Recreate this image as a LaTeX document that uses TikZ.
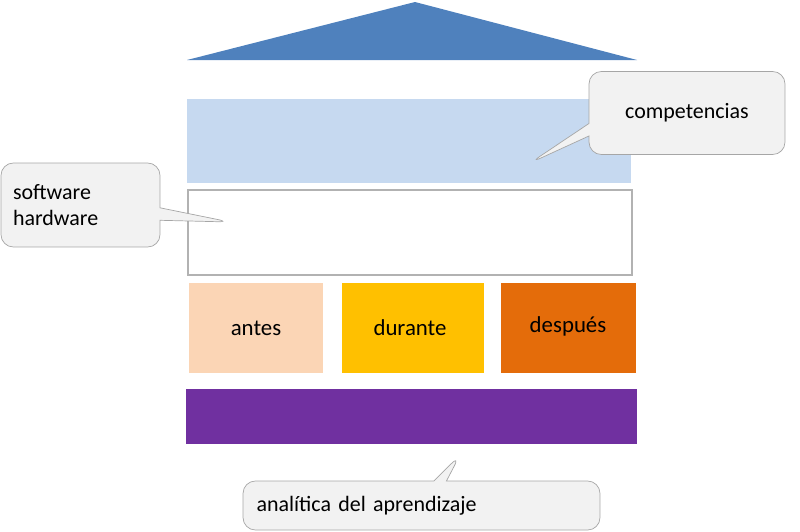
\documentclass[tikz,border=0pt]{standalone}
\usepackage{fontspec}
\setmainfont{Carlito}
\usetikzlibrary{shapes.callouts}

\begin{document}
\begin{tikzpicture}[x=0.02cm,y=-0.02cm]
\useasboundingbox (0,0) rectangle (800,531);

\tikzset{BlockStyle/.style = {draw=none, inner sep=0pt}}
\tikzset{CalloutStyle/.style = {
 rectangle callout,
 rounded corners=7pt,
 draw=gray!70,
 fill=gray!10,
 font=\fontsize{12.5}{15}\selectfont,
 align=left,
 inner sep=0pt} }

\definecolor{roofblue}{HTML}{4F81BD}
\definecolor{skyblue}{HTML}{C6D9F0}
\definecolor{peach}{HTML}{FBD5B5}
\definecolor{amber}{HTML}{FFC000}
\definecolor{rust}{HTML}{E46C0A}
\definecolor{violet}{HTML}{7030A0}

\coordinate (R1) at (187,60);
\coordinate (R2) at (415,2);
\coordinate (R3) at (637,60);
\fill[roofblue] (R1) -- (R2) -- (R3) -- cycle;

\fill[skyblue] (187,99) rectangle (631,183);
\draw[gray!60, line width=1pt] (188,190) rectangle (632,275);

\fill[peach] (189,283) rectangle (323,373);
\node (Antes) at (256,328) {\fontsize{13}{15}\selectfont antes};
\fill[amber] (342,283) rectangle (484,373);
\node (Durante) at (410,328) {\fontsize{13}{15}\selectfont durante};
\fill[rust] (501,283) rectangle (636,373);
\node (Despues) at (568,326) {\fontsize{13}{15}\selectfont después};

\fill[violet] (186,389) rectangle (637,444);

\coordinate (P1) at (530,163);
\coordinate (P2) at (230,222);
\coordinate (P3) at (460,455);

\node[CalloutStyle, minimum width=3.92cm, minimum height=1.66cm,
 callout absolute pointer={(P1)}] (Comp) at (687,113) {competencias};
\node[CalloutStyle, minimum width=3.18cm, minimum height=1.68cm,
 callout absolute pointer={(P2)}, text width=2.7cm] (Soft) at (80.5,205) {software\\hardware};
\node[CalloutStyle, minimum width=7.14cm, minimum height=0.98cm,
 callout absolute pointer={(P3)}, text width=6.6cm] (Anal) at (421.5,505.5) {analítica del aprendizaje};

\end{tikzpicture}
\end{document}
